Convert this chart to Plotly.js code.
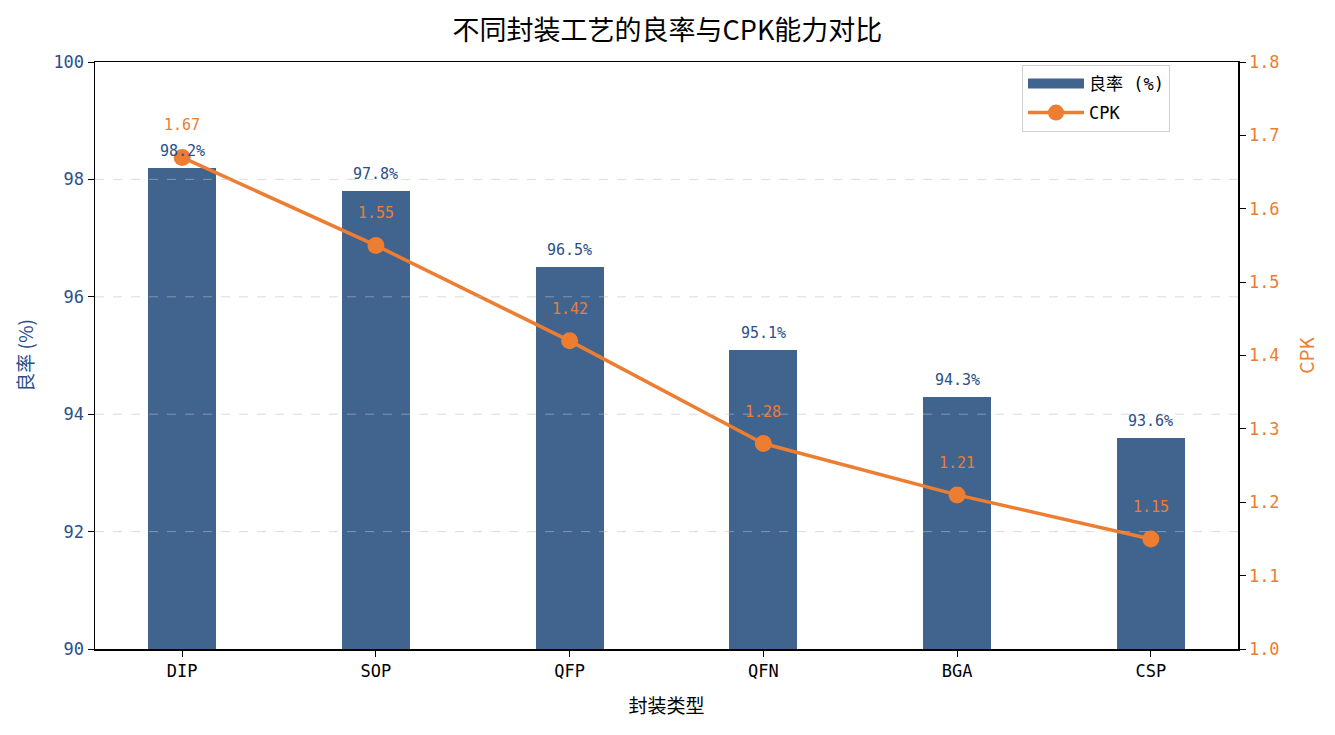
<!DOCTYPE html>
<html>
<head>
<meta charset="utf-8">
<script src="https://cdn.plot.ly/plotly-3.0.1.min.js"></script>
<style>html,body{margin:0;padding:0;background:#fff;}#chart{width:1335px;height:735px;}</style>
</head>
<body>
<div id="chart"></div>
<script>
const categories = ['DIP', 'SOP', 'QFP', 'QFN', 'BGA', 'CSP'];
const yieldValues = [98.2, 97.8, 96.5, 95.1, 94.3, 93.6];
const cpkValues = [1.67, 1.55, 1.42, 1.28, 1.21, 1.15];
const yieldTicks = [90, 92, 94, 96, 98, 100];
const cpkTicks = [1.0, 1.1, 1.2, 1.3, 1.4, 1.5, 1.6, 1.7, 1.8];

const BLUE = '#41648f';
const BLUE_TXT = '#2b4f8a';
const ORANGE = '#ed7d31';
const CJK = '"Noto Sans CJK SC", "Noto Sans", sans-serif';
const MONO = '"DejaVu Sans Mono", "Noto Sans CJK SC", monospace';

const xIdx = categories.map((c, i) => i);

const bar = {
  type: 'bar', name: '良率 (%)', x: xIdx, y: yieldValues,
  marker: {color: BLUE}, width: 0.35, yaxis: 'y', hoverinfo: 'skip',
  showlegend: false
};
// legend proxy for the bar series (wide swatch like the reference)
const barLegend = {
  type: 'scatter', mode: 'lines', name: '良率 (%)', x: [null], y: [null], yaxis: 'y',
  line: {color: BLUE, width: 13}, hoverinfo: 'skip', legendgroup: 'a', showlegend: true
};
const line = {
  type: 'scatter', mode: 'lines+markers', name: 'CPK', x: xIdx, y: cpkValues,
  yaxis: 'y2', line: {color: ORANGE, width: 3.5}, marker: {color: ORANGE, size: 17},
  hoverinfo: 'skip', legendgroup: 'b'
};

const annotations = [];
xIdx.forEach((i) => {
  annotations.push({x: i, y: yieldValues[i], xref: 'x', yref: 'y', text: yieldValues[i].toFixed(1) + '%',
    showarrow: false, yanchor: 'middle', yshift: 17, font: {family: MONO, size: 15, color: BLUE_TXT}});
  annotations.push({x: i, y: cpkValues[i], xref: 'x', yref: 'y2', text: cpkValues[i].toFixed(2),
    showarrow: false, yanchor: 'middle', yshift: 32, font: {family: MONO, size: 15, color: ORANGE}});
});

const gridShapes = yieldTicks.filter(v => v > 90 && v < 100).map(v => ({
  type: 'line', xref: 'paper', yref: 'y', x0: 0, x1: 1, y0: v, y1: v, layer: 'above',
  line: {color: 'rgba(190,190,190,0.55)', width: 1, dash: 'dash'}
}));

const layout = {
  width: 1335, height: 735,
  margin: {l: 95, r: 97, t: 62, b: 86},
  paper_bgcolor: '#fff', plot_bgcolor: '#fff',
  font: {family: CJK, color: '#000'},
  title: {text: '不同封装工艺的良率与CPK能力对比', x: 0.5, xanchor: 'center', y: 0.959, yanchor: 'middle',
    font: {family: CJK, size: 27, color: '#000'}},
  showlegend: true,
  legend: {x: 0.9405, xanchor: 'right', y: 0.995, yanchor: 'top', bgcolor: '#fff',
    bordercolor: '#d0d0d0', borderwidth: 1, traceorder: 'grouped', tracegroupgap: 4,
    itemwidth: 56,
    font: {family: MONO, size: 17, color: '#000'}},
  xaxis: {
    tickmode: 'array', tickvals: xIdx, ticktext: categories, range: [-0.45, 5.45],
    showgrid: false, zeroline: false, showline: true, linecolor: '#000', linewidth: 1.5, mirror: true,
    ticks: 'outside', ticklen: 6, tickcolor: '#000',
    tickfont: {family: MONO, size: 17, color: '#000'},
    title: {text: '封装类型', standoff: 20, font: {family: CJK, size: 19, color: '#000'}}
  },
  yaxis: {
    range: [90, 100], tickmode: 'array', tickvals: yieldTicks, ticktext: yieldTicks.map(String),
    showgrid: false, zeroline: false, showline: true, linecolor: '#000', linewidth: 1.5, mirror: true,
    ticks: 'outside', ticklen: 6, tickcolor: '#000',
    tickfont: {family: MONO, size: 17, color: BLUE_TXT},
    title: {text: '良率 (%)', standoff: 14, font: {family: CJK, size: 19, color: BLUE_TXT}}
  },
  yaxis2: {
    range: [1.0, 1.8], overlaying: 'y', side: 'right', tickmode: 'array', tickvals: cpkTicks,
    ticktext: cpkTicks.map(v => v.toFixed(1)),
    showgrid: false, zeroline: false, showline: true, linecolor: '#000', linewidth: 1.5,
    ticks: 'outside', ticklen: 6, tickcolor: '#000',
    tickfont: {family: MONO, size: 17, color: ORANGE},
    title: {text: 'CPK', standoff: 22, font: {family: CJK, size: 19, color: ORANGE}}
  },
  shapes: gridShapes,
  annotations: annotations,
  bargap: 0
};

Plotly.newPlot('chart', [bar, barLegend, line], layout, {displayModeBar: false, staticPlot: true});
</script>
</body>
</html>
